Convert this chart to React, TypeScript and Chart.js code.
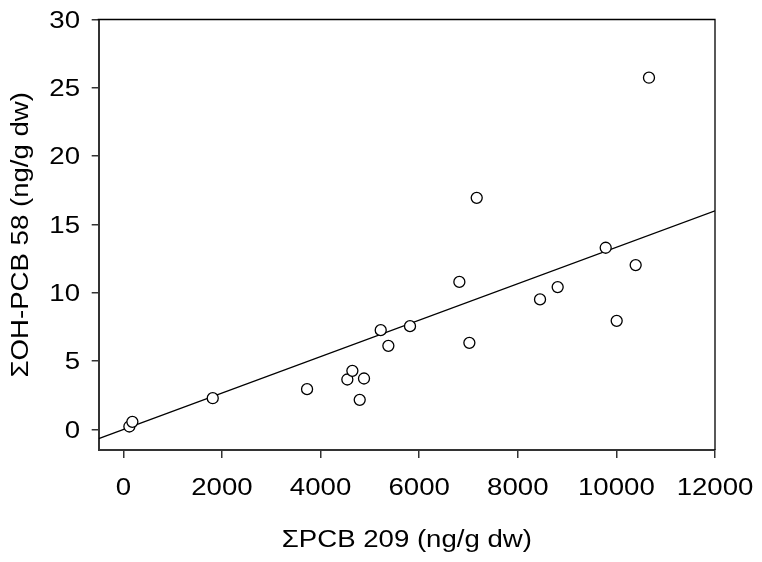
import React, { useEffect, useRef } from "react";
import { Chart, registerables } from "chart.js";

Chart.register(...registerables);

// ΣPCB 209 (ng/g dw) values of the samples
const pcb209 = [122, 183, 1813, 3726, 4543, 4645, 4881, 4794, 5220, 5375, 5814, 6815, 7167, 7018, 8451, 8809, 9783, 10006, 10391, 10661];
// ΣOH-PCB 58 (ng/g dw) values of the samples
const ohpcb58 = [0.22, 0.56, 2.29, 2.95, 3.66, 4.29, 3.73, 2.17, 7.27, 6.12, 7.56, 10.8, 16.95, 6.34, 9.52, 10.42, 13.3, 7.95, 12.03, 25.74];
// regression line end points
const fitX = [-500, 12000];
const fitY = [-0.66, 16.0];

const xTicks = [0, 2000, 4000, 6000, 8000, 10000, 12000];
const yTicks = [0, 5, 10, 15, 20, 25, 30];
const xTitle = "ΣPCB 209 (ng/g dw)";
const yTitle = "ΣOH-PCB 58 (ng/g dw)";

export default function App() {
  const ref = useRef<HTMLCanvasElement>(null);

  useEffect(() => {
    if (!ref.current) return;
    const FONT = "23px 'Liberation Sans', Arial, Helvetica, sans-serif";
    const SX = 1.2;

    const textPlugin = {
      id: "stretchedText",
      afterDraw(chart: any) {
        const { ctx, chartArea } = chart;
        const xs = chart.scales.x;
        const ys = chart.scales.y;
        ctx.save();
        ctx.strokeStyle = "#000";
        ctx.lineWidth = 1.3;
        ctx.beginPath();
        ctx.moveTo(chartArea.left - 1, chartArea.top);
        ctx.lineTo(chartArea.right, chartArea.top);
        ctx.lineTo(chartArea.right, chartArea.bottom);
        ctx.stroke();

        ctx.fillStyle = "#000";
        ctx.font = FONT;
        ctx.textBaseline = "alphabetic";
        const draw = (text: string, x: number, y: number, align: CanvasTextAlign, rot = 0) => {
          ctx.save();
          ctx.translate(x, y);
          ctx.rotate(rot);
          ctx.scale(SX, 1);
          ctx.textAlign = align;
          ctx.fillText(text, 0, 0);
          ctx.restore();
        };
        yTicks.forEach((v) => draw(String(v), 80, ys.getPixelForValue(v) + 8.2, "right"));
        xTicks.forEach((v) => draw(String(v), xs.getPixelForValue(v), 495, "center"));
        draw(xTitle, (chartArea.left + chartArea.right) / 2, 546.5, "center");
        draw(yTitle, 28, (chartArea.top + chartArea.bottom) / 2, "center", -Math.PI / 2);
        ctx.restore();
      },
    };

    const chart = new Chart(ref.current, {
      type: "scatter",
      data: {
        datasets: [
          {
            type: "line",
            data: fitX.map((x, i) => ({ x, y: fitY[i] })),
            borderColor: "#000",
            borderWidth: 1.3,
            pointRadius: 0,
            fill: false,
            order: 2,
          } as any,
          {
            type: "scatter",
            data: pcb209.map((x, i) => ({ x, y: ohpcb58[i] })),
            pointRadius: 5.5,
            backgroundColor: "#fff",
            borderColor: "#000",
            borderWidth: 1.3,
            order: 1,
          },
        ],
      },
      options: {
        animation: false,
        responsive: false,
        maintainAspectRatio: false,
        layout: { padding: { left: 0, right: 47, top: 19.5, bottom: 0 } },
        plugins: { legend: { display: false }, tooltip: { enabled: false } },
        scales: {
          x: {
            type: "linear",
            position: "bottom",
            min: -500,
            max: 12000,
            afterBuildTicks: (s: any) => {
              s.ticks = xTicks.map((v) => ({ value: v }));
            },
            afterFit: (s: any) => {
              s.height = 112;
            },
            ticks: { display: false },
            grid: { drawOnChartArea: false, drawTicks: true, tickLength: 8, color: "#333", lineWidth: 1.5 },
            border: { display: true, color: "#333", width: 2 },
          },
          y: {
            type: "linear",
            position: "left",
            min: -1.5,
            max: 30,
            afterBuildTicks: (s: any) => {
              s.ticks = yTicks.map((v) => ({ value: v }));
            },
            afterFit: (s: any) => {
              s.width = 98.7;
            },
            ticks: { display: false },
            grid: { drawOnChartArea: false, drawTicks: true, tickLength: 7, color: "#333", lineWidth: 1.5 },
            border: { display: true, color: "#333", width: 2 },
          },
        },
      } as any,
      plugins: [textPlugin],
    });
    return () => chart.destroy();
  }, []);

  return (
    <div style={{ position: "absolute", left: 0, top: 0, width: 762, height: 562, background: "#fff" }}>
      <canvas ref={ref} width={762} height={562} style={{ display: "block" }} />
    </div>
  );
}
